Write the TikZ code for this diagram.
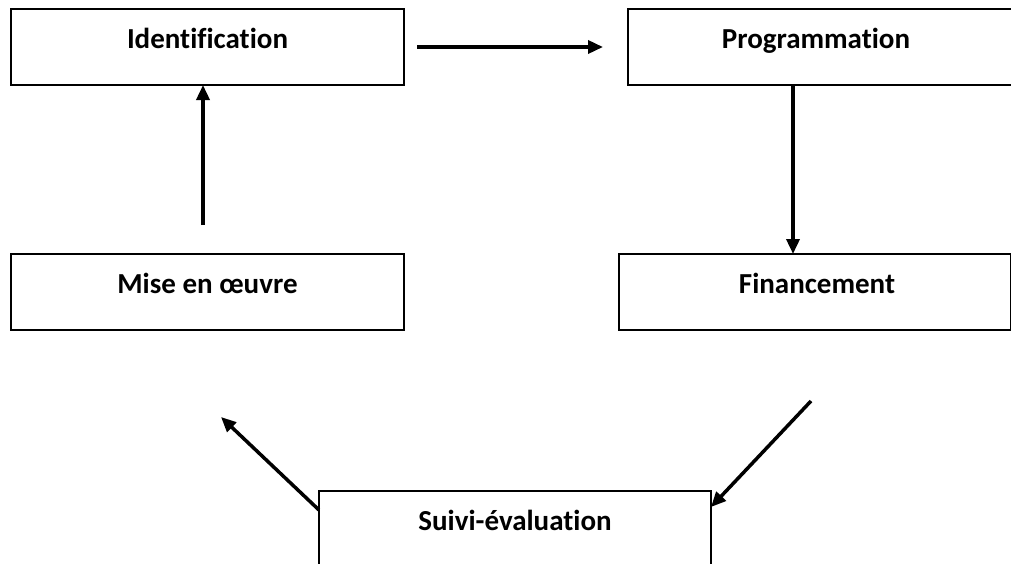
\documentclass[tikz,border=0pt]{standalone}
\usepackage{fontspec}
\setmainfont{Carlito}[Ligatures=CommonOff]
\usetikzlibrary{arrows.meta}
\begin{document}
\begin{tikzpicture}[x=1pt,y=-1pt,
  stage/.style={draw=black, line width=1.5pt, inner sep=0pt, outer sep=0pt,
    minimum width=#1, minimum height=76pt, anchor=north west},
  title/.style={inner sep=0pt, anchor=base,
    font=\fontsize{29}{34}\selectfont\bfseries},
  flow/.style={line width=3.5pt, -{Triangle[length=15pt,width=13pt]}}]
\useasboundingbox (0,0) rectangle (1011,563);
\begin{scope}
\clip (0,0) rectangle (1011,563);
% the five stages of the cycle
\node[stage=393pt] (ident) at (11,9)    {};
\node[stage=392pt] (prog)  at (628,9)   {};
\node[stage=393pt] (mise)  at (11,254)  {};
\node[stage=392pt] (fin)   at (619,254) {};
\node[stage=392pt] (suivi) at (319,491) {};
% their titles, set on a common baseline 39pt below each top edge
\node[title] (ident-t) at (207.5,48)  {Identification};
\node[title] (prog-t)  at (816,48)    {Programmation};
\node[title] (mise-t)  at (207.5,293) {Mise en œuvre};
\node[title] (fin-t)   at (817,293)   {Financement};
\node[title] (suivi-t) at (515,530)   {Suivi-évaluation};
% free ends of the arrows
\coordinate (a1) at (417,47);
\coordinate (a2) at (603,47);
\coordinate (m0) at (203,225);
\coordinate (pf) at (793,0);
\coordinate (r0) at (811,401);
\coordinate (l1) at (221,417);
% arrows
\draw[flow] (a1) -- (a2);
\draw[flow] (pf |- prog.south) -- (pf |- fin.north);
\draw[flow] (r0) -- ([yshift=-16pt]suivi.north east);
\draw[flow] ([yshift=-19pt]suivi.north west) -- (l1);
\draw[flow] (m0) -- (m0 |- ident.south);
\end{scope}
\end{tikzpicture}
\end{document}
